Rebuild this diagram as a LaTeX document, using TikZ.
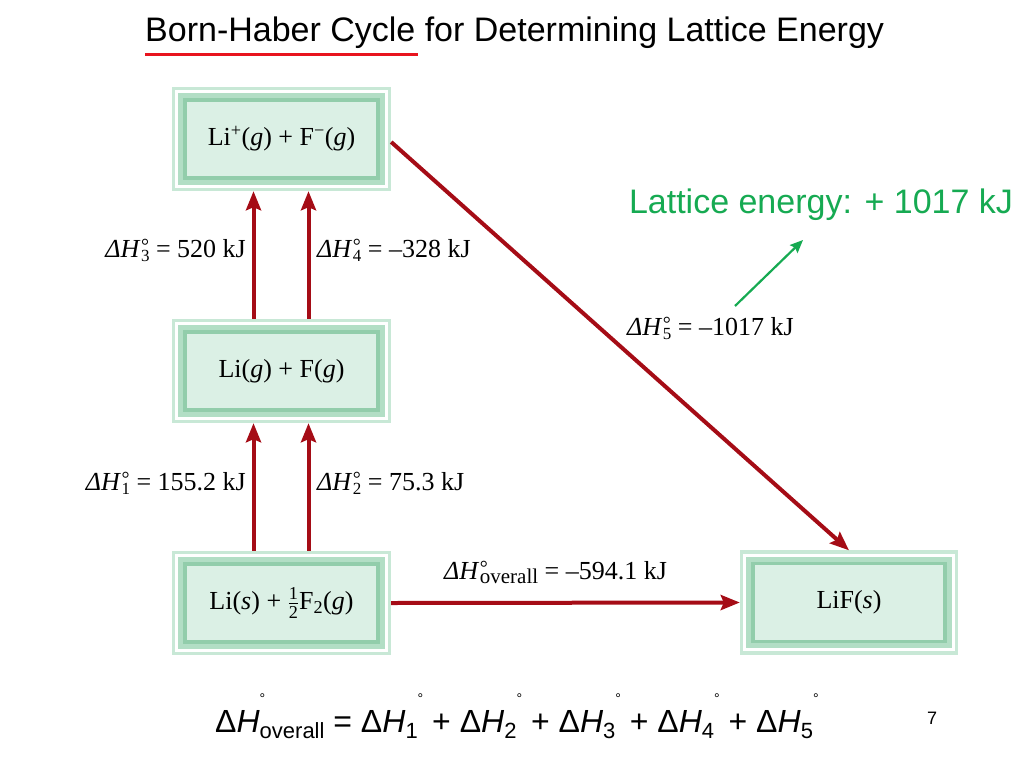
\documentclass[tikz,border=0pt]{standalone}
\usepackage{amsmath}
\usepackage{fontspec}
\setmainfont{Liberation Serif}
\setsansfont{Liberation Sans}
\usetikzlibrary{arrows.meta,backgrounds}
\definecolor{bandpale}{RGB}{200,232,214}
\definecolor{bandmid}{RGB}{178,222,197}
\definecolor{banddark}{RGB}{146,205,171}
\definecolor{boxfill}{RGB}{219,240,229}
\definecolor{cyclered}{RGB}{165,12,22}
\definecolor{latgreen}{RGB}{22,170,82}
\definecolor{titlered}{RGB}{232,20,30}

% enthalpy symbol in the serif labels
\newcommand\dH[2][17]{\textit{ΔH}\kern0.5pt\rlap{\raisebox{5pt}{\fontsize{20}{20}\selectfont°}}%
  \raisebox{-4pt}{\fontsize{#1}{#1}\selectfont #2}}
% enthalpy symbol in the sans equation
\newcommand\eqH[1]{Δ\textit{H}\raisebox{-6pt}{\fontsize{22}{22}\selectfont #1}%
  \raisebox{29pt}{\fontsize{14}{14}\selectfont°}}

\begin{document}
\begin{tikzpicture}[x=1pt, y=-1pt,
  state/.style={minimum width=219pt, minimum height=104pt, inner sep=0pt,
                font=\fontsize{26}{30}\selectfont},
  lbl/.style={font=\fontsize{26}{30}\selectfont, inner sep=0pt},
  cyc/.style={-{Stealth[length=19pt, width=15pt, inset=3pt]}, line width=4pt, cyclered},
  hint/.style={-{Stealth[length=13pt, width=11pt, inset=2pt]}, line width=2.2pt, latgreen}]
\useasboundingbox (0,0) rectangle (1024,768);

% ---------- title ----------
\node[font=\sffamily\fontsize{34}{40}\selectfont, anchor=west, inner sep=0pt] (title)
  at (145,33) {Born-Haber Cycle for Determining Lattice Energy};
\draw[titlered, line width=3pt] (145,55) -- (418,55);

% ---------- states ----------
\node[state] (ions)  at (281.5,139) {Li\textsuperscript{+}(\textit{g}) + F\textsuperscript{−}(\textit{g})};
\node[state] (atoms) at (281.5,371) {Li(\textit{g}) + F(\textit{g})};
\node[state] (elems) at (281.5,603) {Li(\textit{s}) + $\tfrac{\text{1}}{\text{2}}$F\textsubscript{2}(\textit{g})};
\node[state, minimum width=218pt] (salt) at (849,602.5) {LiF(\textit{s})};

\begin{scope}[on background layer]
\foreach \n in {ions,atoms,elems,salt}{
  \fill[bandpale] (\n.north west) rectangle (\n.south east);
  \draw[white, line width=3pt] ([shift={(5pt,-5pt)}]\n.north west)
    rectangle ([shift={(-5pt,5pt)}]\n.south east);
  \fill[bandmid] ([shift={(6.5pt,-6.5pt)}]\n.north west) rectangle ([shift={(-6.5pt,6.5pt)}]\n.south east);
  \fill[banddark] ([shift={(11.5pt,-11.5pt)}]\n.north west) rectangle ([shift={(-11.5pt,11.5pt)}]\n.south east);
  \fill[boxfill] ([shift={(15pt,-15pt)}]\n.north west) rectangle ([shift={(-15pt,15pt)}]\n.south east);
}
\end{scope}

% ---------- steps ----------
\draw[cyc] ([xshift=-28pt]elems.north) -- ([xshift=-28pt]atoms.south);
\draw[cyc] ([xshift=27pt]elems.north)  -- ([xshift=27pt]atoms.south);
\draw[cyc] ([xshift=-28pt]atoms.north) -- ([xshift=-28pt]ions.south);
\draw[cyc] ([xshift=27pt]atoms.north)  -- ([xshift=27pt]ions.south);
\draw[cyc] ([yshift=-3pt]ions.east) -- (salt.north);
\draw[cyc] (elems.east) -- (salt.west);

\node[lbl, anchor=east] (h3) at (246,250) {\dH{3} = 520 kJ};
\node[lbl, anchor=west] (h4) at (317,250) {\dH{4} = –328 kJ};
\node[lbl, anchor=east] (h1) at (246,483) {\dH{1} = 155.2 kJ};
\node[lbl, anchor=west] (h2) at (317,483) {\dH{2} = 75.3 kJ};
\node[lbl, anchor=west] (h5) at (627,328) {\dH{5} = –1017 kJ};
\node[lbl, anchor=west] (hall) at (444,572) {\dH[21]{overall} = –594.1 kJ};

% ---------- lattice energy note ----------
\node[font=\sffamily\fontsize{34}{38}\selectfont, text=latgreen, inner sep=0pt] (lattice)
  at (821,205) {Lattice energy: + 1017 kJ};
\coordinate (gtail) at (735,306);
\coordinate (ghead) at (803,240);
\draw[hint] (gtail) -- (ghead);

% ---------- sum ----------
\node[font=\sffamily\fontsize{32}{36}\selectfont, anchor=west, inner sep=0pt] (sumeq) at (215,716)
  {Δ\textit{H}\rlap{\raisebox{29pt}{\fontsize{14}{14}\selectfont°}}\raisebox{-6pt}{\fontsize{22}{22}\selectfont overall}
   = \eqH{1} + \eqH{2} + \eqH{3} + \eqH{4} + \eqH{5}};
\node[font=\sffamily\fontsize{18}{20}\selectfont, inner sep=0pt] (pagenum) at (932,718) {7};
\end{tikzpicture}
\end{document}
